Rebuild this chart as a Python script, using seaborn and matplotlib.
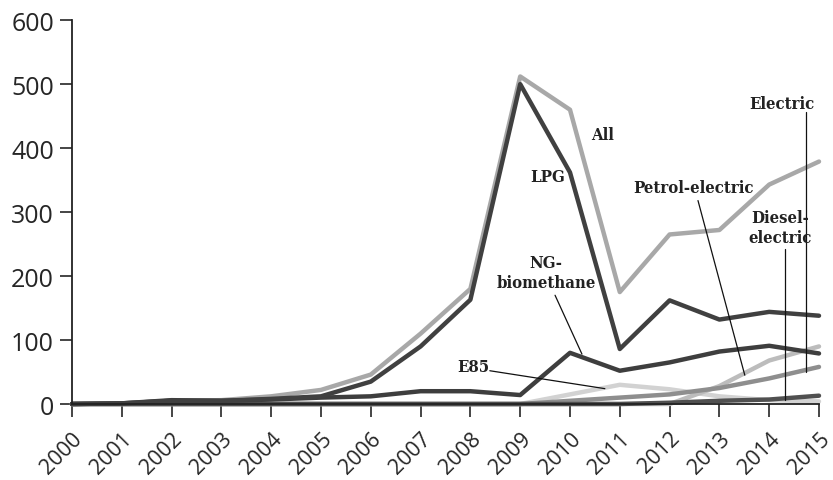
import matplotlib
matplotlib.use("Agg")
import matplotlib.pyplot as plt
import seaborn as sns
import pandas as pd

years = list(range(2000, 2016))
all_fuels = [0, 1, 5, 6, 12, 22, 46, 110, 180, 512, 460, 175, 265, 272, 343, 379]
lpg = [0, 1, 5, 5, 8, 12, 35, 90, 163, 500, 362, 86, 162, 132, 144, 138]
ng_biomethane = [0, 1, 6, 5, 7, 10, 12, 20, 20, 14, 80, 52, 65, 82, 91, 79]
e85 = [0, 0, 0, 0, 0, 0, 0, 0, 0, 0, 15, 30, 23, 12, 6, 4]
petrol_electric = [0, 0, 0, 0, 0, 0, 0, 0, 0, 0, 0, 0, 0, 28, 68, 90]
electric = [0, 0, 0, 0, 0, 0, 0, 0, 0, 0, 5, 10, 15, 25, 40, 58]
diesel_electric = [0, 0, 0, 0, 0, 0, 0, 0, 0, 0, 0, 0, 2, 5, 7, 13]

series = {
    "All": all_fuels,
    "E85": e85,
    "Petrol-electric": petrol_electric,
    "Electric": electric,
    "Diesel-electric": diesel_electric,
    "NG-biomethane": ng_biomethane,
    "LPG": lpg,
}
colors = {
    "All": "#a8a8a8",
    "E85": "#d2d2d2",
    "Petrol-electric": "#bcbcbc",
    "Electric": "#8e8e8e",
    "Diesel-electric": "#505050",
    "NG-biomethane": "#3e3e3e",
    "LPG": "#404040",
}

rows = []
for name, vals in series.items():
    for y, v in zip(years, vals):
        rows.append({"year": y, "value": v, "fuel": name})
df = pd.DataFrame(rows)

sns.set_style("ticks")
plt.rcParams['font.family'] = ['Open Sans', 'DejaVu Sans']

fig = plt.figure(figsize=(8.33, 4.81), dpi=100)
ax = fig.add_axes([0.0864, 0.158, 0.8968, 0.798])

sns.lineplot(data=df, x="year", y="value", hue="fuel", palette=colors,
             hue_order=list(series.keys()), linewidth=3.2, legend=False,
             ax=ax, clip_on=False)

ax.set_xlim(2000, 2015)
ax.set_ylim(0, 600)
ax.set_xticks(years)
ax.set_xticklabels([str(y) for y in years], rotation=45, ha="right",
                   rotation_mode="anchor", fontsize=15.5)
ax.set_yticks(range(0, 601, 100))
ax.tick_params(axis="y", labelsize=18, length=9, width=1.2, direction="out", pad=4)
ax.tick_params(axis="x", length=9, width=1.2, direction="out", pad=8)
ax.set_xlabel("")
ax.set_ylabel("")
for s in ["top", "right"]:
    ax.spines[s].set_visible(False)
for s in ["left", "bottom"]:
    ax.spines[s].set_linewidth(1.3)
    ax.spines[s].set_color("#222222")

lab = dict(fontsize=12, fontweight="bold", family="DejaVu Serif",
           fontstretch="condensed", ha="center", va="center", color="#222222")
line_kw = dict(color="#111111", lw=0.9)

ax.text(2010.66, 422, "All", **lab)
ax.text(2009.56, 355, "LPG", **lab)
ax.text(2012.47, 339, "Petrol-electric", **lab)
ax.plot([2012.57, 2013.51], [318, 45], **line_kw)
ax.text(2014.26, 469, "Electric", **lab)
ax.plot([2014.74, 2014.74], [456, 50], **line_kw)
ax.text(2014.22, 276, "Diesel-\nelectric", linespacing=1.25, **lab)
ax.plot([2014.32, 2014.32], [242, 6], **line_kw)
ax.text(2009.52, 205, "NG-\nbiomethane", linespacing=1.25, **lab)
ax.plot([2009.70, 2010.24], [170, 78], **line_kw)
ax.text(2008.05, 58, "E85", **lab)
ax.plot([2008.39, 2010.70], [52, 24], **line_kw)

fig.savefig("out.png", dpi=100)
